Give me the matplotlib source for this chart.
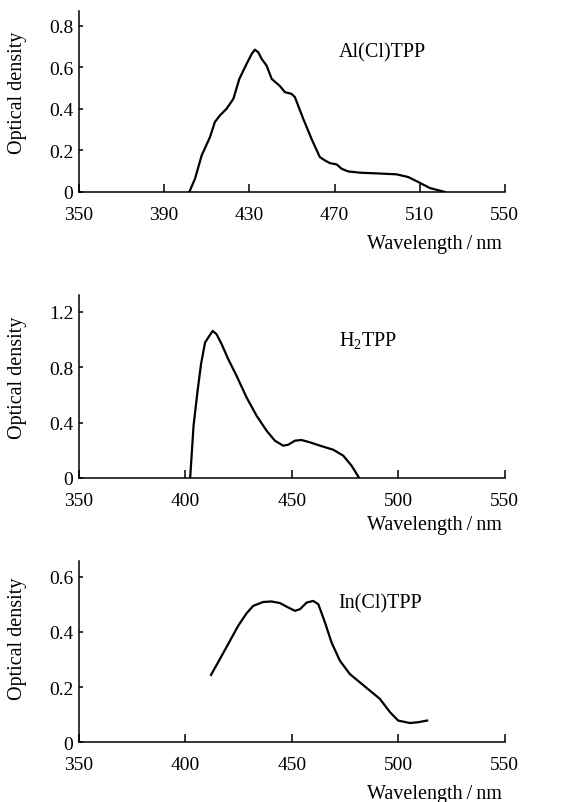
import matplotlib
matplotlib.use("Agg")
import matplotlib.pyplot as plt

plt.rcParams['font.family'] = ['Liberation Serif', 'DejaVu Serif']
plt.rcParams['mathtext.fontset'] = 'custom'
plt.rcParams['mathtext.rm'] = 'Liberation Serif'
plt.rcParams['mathtext.it'] = 'Liberation Serif:italic'

# Al(Cl)TPP
al_x = [401.8, 404.5, 407.6, 411.5, 413.8, 416.2, 419.3, 422.5, 425.3, 428.7, 431.1, 432.6,
        434.2, 435.8, 438.1, 440.5, 444.4, 446.7, 449.8, 451.4, 455.3, 459.2, 463.1, 465.5,
        467.8, 471.0, 473.3, 476.4, 481.9, 492.9, 499.1, 504.6, 509.3, 514.8, 521.8]
al_y = [0.0, 0.064, 0.176, 0.264, 0.337, 0.369, 0.401, 0.449, 0.545, 0.617, 0.665, 0.686,
        0.673, 0.641, 0.609, 0.545, 0.510, 0.481, 0.473, 0.457, 0.353, 0.256, 0.168, 0.152,
        0.139, 0.133, 0.112, 0.099, 0.093, 0.088, 0.085, 0.072, 0.048, 0.019, 0.0]

# H2TPP
h2_x = [402.2, 403.8, 405.6, 407.3, 409.2, 410.7, 412.8, 414.6, 417.0, 420.1, 424.0, 428.7,
        433.4, 438.1, 442.0, 445.9, 448.3, 451.4, 454.5, 458.5, 463.2, 469.4, 474.1, 478.0,
        481.1, 481.6]
h2_y = [0.0, 0.377, 0.617, 0.821, 0.977, 1.013, 1.061, 1.037, 0.965, 0.857, 0.737, 0.581,
        0.449, 0.341, 0.269, 0.233, 0.240, 0.269, 0.274, 0.257, 0.233, 0.204, 0.161, 0.089,
        0.012, 0.0]

# In(Cl)TPP
in_x = [412.0, 416.2, 420.9, 424.8, 428.7, 431.8, 436.5, 440.4, 444.4, 448.3, 451.4, 453.8,
        456.9, 460.0, 462.4, 465.5, 468.6, 472.5, 477.2, 481.9, 486.6, 491.3, 496.0, 499.9,
        505.4, 509.3, 513.5]
in_y = [0.244, 0.302, 0.368, 0.423, 0.468, 0.495, 0.509, 0.511, 0.505, 0.489, 0.477, 0.483,
        0.507, 0.513, 0.501, 0.435, 0.362, 0.296, 0.247, 0.217, 0.187, 0.157, 0.109, 0.078,
        0.069, 0.072, 0.078]

panels = [
    dict(x=al_x, y=al_y, label="Al(Cl)TPP", xticks=[350, 390, 430, 470, 510, 550],
         yticks=[0, 0.2, 0.4, 0.6, 0.8], yticklabels=["0", "0.2", "0.4", "0.6", "0.8"],
         ylim=0.872, tpos=(472, 0.673), rect=[0.1374, 0.7597, 0.7406, 0.2253],
         xl_y=0.695, yl_y=0.885),
    dict(x=h2_x, y=h2_y, label="H$_2$TPP", xticks=[350, 400, 450, 500, 550],
         yticks=[0, 0.4, 0.8, 1.2], yticklabels=["0", "0.4", "0.8", "1.2"],
         ylim=1.32, tpos=(472, 1.0), rect=[0.1374, 0.4035, 0.7406, 0.2279],
         xl_y=0.346, yl_y=0.530),
    dict(x=in_x, y=in_y, label="In(Cl)TPP", xticks=[350, 400, 450, 500, 550],
         yticks=[0, 0.2, 0.4, 0.6], yticklabels=["0", "0.2", "0.4", "0.6"],
         ylim=0.658, tpos=(472, 0.507), rect=[0.1374, 0.0747, 0.7406, 0.2254],
         xl_y=0.010, yl_y=0.205),
]

fig = plt.figure(figsize=(5.75, 8.03), dpi=100)
for p in panels:
    ax = fig.add_axes(p["rect"])
    ax.plot(p["x"], p["y"], color="black", lw=1.6, solid_joinstyle="round")
    ax.set_xlim(350, 550)
    ax.set_ylim(0, p["ylim"])
    ax.set_xticks(p["xticks"])
    ax.set_xticklabels([str(t) for t in p["xticks"]])
    ax.set_yticks(p["yticks"])
    ax.set_yticklabels(p["yticklabels"])
    for s in ["top", "right"]:
        ax.spines[s].set_visible(False)
    for s in ["left", "bottom"]:
        ax.spines[s].set_linewidth(1.1)
    ax.tick_params(axis="x", direction="in", length=6, width=1.1, pad=10, labelsize=14)
    ax.tick_params(axis="y", direction="in", length=3, width=1.1, pad=4, labelsize=14)
    ax.text(p["tpos"][0], p["tpos"][1], p["label"], fontsize=14.5, ha="left", va="center")
    fig.text(0.873, p["xl_y"], "Wavelength\u2009/\u2009nm", fontsize=14.5, ha="right", va="center")
    fig.text(0.031, p["yl_y"], "Optical density", fontsize=14.5, rotation=90,
             ha="center", va="center")

fig.savefig("out.png", dpi=100)
